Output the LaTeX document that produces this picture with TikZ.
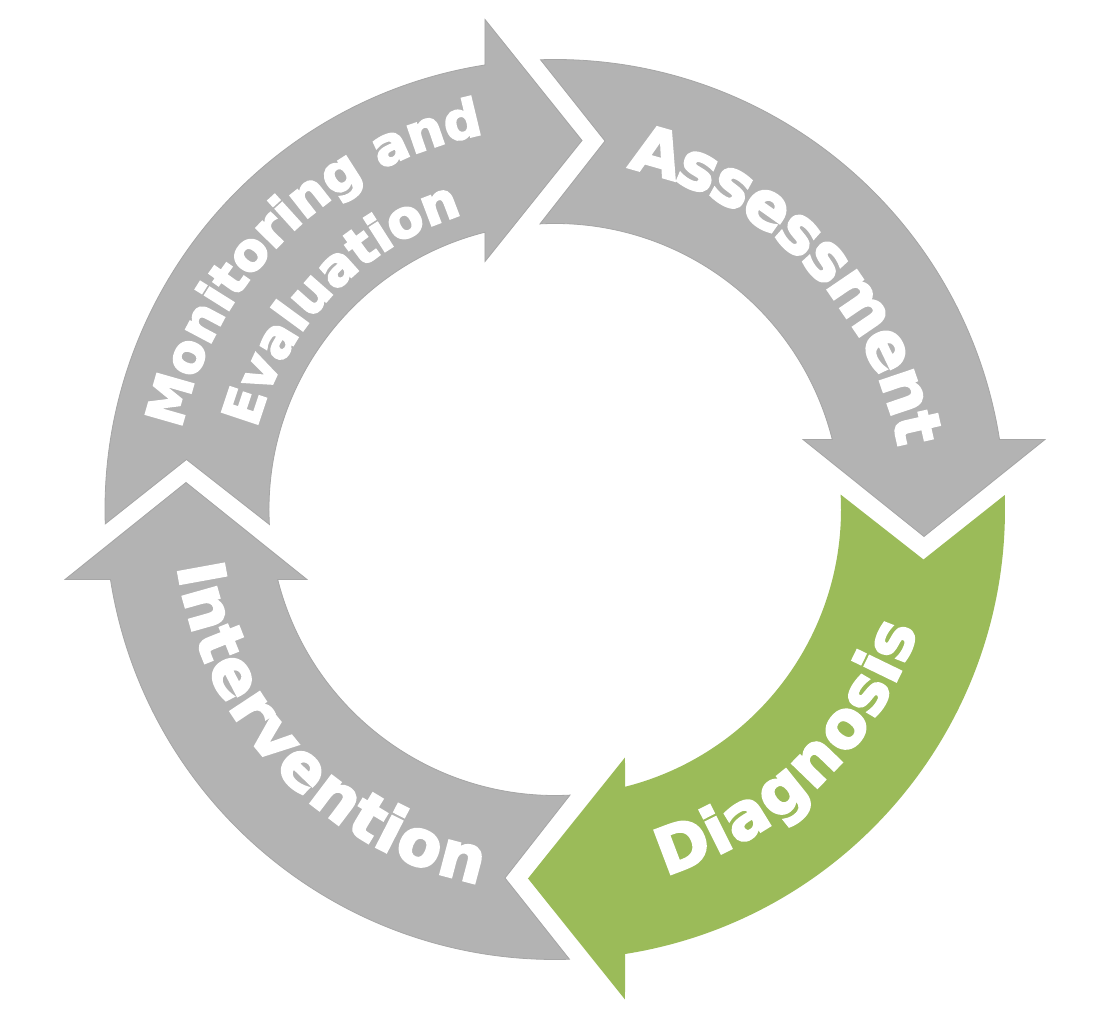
\documentclass[tikz,border=0pt]{standalone}
\usepackage{fontspec}
\usetikzlibrary{decorations.text}
\newfontfamily\cyclefont[FakeBold=3.5]{DejaVu Sans Bold}
\newcommand\bigsegfont{\fontsize{64}{70}\selectfont\cyclefont}
\newcommand\smallsegfont{\fontsize{52}{60}\selectfont\cyclefont}
\definecolor{seggray}{RGB}{179,179,179}
\definecolor{segedge}{RGB}{166,166,166}
\definecolor{seggreen}{RGB}{155,187,89}
\tikzset{
  segshape/.pic={
    \path[pic actions] (91.84:450) arc[start angle=91.84, end angle=8.95, radius=450]
      -- (490,70) -- (369,-27) -- (248,70) -- (14.17:286)
      arc[start angle=14.17, end angle=93.0, radius=286] -- (50,368.5) -- cycle;
  },
  grayseg/.style={fill=seggray, draw=segedge, line width=0.8pt},
  greenseg/.style={fill=seggreen},
  seglabel/.style={decorate, decoration={text along path, text align=center,
    text color=white, raise=#1}},
  seglabel/.default=-17pt,
}
\begin{document}
\begin{tikzpicture}[x=1pt,y=1pt]
\useasboundingbox (-555,-509.5) rectangle (538,509.5);
% segments
\pic[grayseg, rotate=0] (assess) {segshape};
\pic[greenseg, rotate=-90] (diag) {segshape};
\pic[grayseg, rotate=-180] (interv) {segshape};
\pic[grayseg, rotate=90] (monit) {segshape};
% labels
\path[seglabel, decoration={text={|\bigsegfont|Assessment}}]
  (124.1:366) arc[start angle=124.1, end angle=-35.9, radius=366];
\path[seglabel, decoration={text={|\bigsegfont|Diagnosis}}]
  (234.2:365) arc[start angle=234.2, end angle=394.2, radius=365];
\path[seglabel, decoration={text={|\bigsegfont|Intervention}}]
  (143.6:365) arc[start angle=143.6, end angle=303.6, radius=365];
\path[seglabel=0pt, decoration={text={|\smallsegfont|Monitoring and}}]
  (214.3:382) arc[start angle=214.3, end angle=54.3, radius=382];
\path[seglabel=0pt, decoration={text={|\smallsegfont|Evaluation}}]
  (216.1:309) arc[start angle=216.1, end angle=56.1, radius=309];
\end{tikzpicture}
\end{document}
